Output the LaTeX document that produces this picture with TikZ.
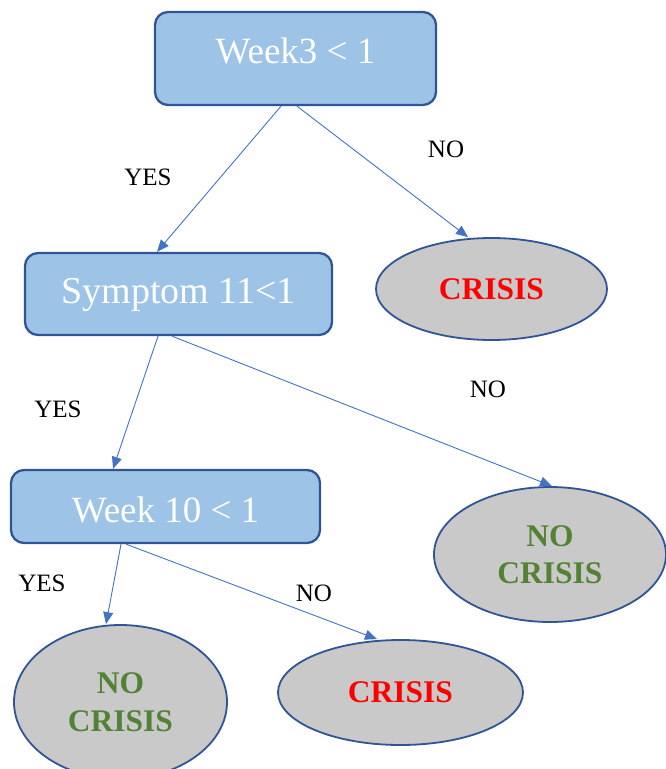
\documentclass[tikz,border=0pt]{standalone}
\usepackage{fontspec}
\setmainfont{Liberation Serif}
\usetikzlibrary{arrows.meta,shapes.geometric}
\definecolor{boxfill}{HTML}{9DC3E6}
\definecolor{edgeblue}{HTML}{2F5597}
\definecolor{ellfill}{HTML}{C9C9C9}
\definecolor{arrowblue}{HTML}{4472C4}
\definecolor{crisisred}{HTML}{FF0000}
\definecolor{okgreen}{HTML}{548235}
\begin{document}
\begin{tikzpicture}[x=1pt,y=-1pt,
 decbox/.style={draw=edgeblue, line width=2.3pt, fill=boxfill, rounded corners=13pt, text=white, font=\fontsize{37}{44}\selectfont, inner sep=2pt},
 leaf/.style={ellipse, draw=edgeblue, line width=1.8pt, fill=ellfill, inner sep=0pt, font=\fontsize{31.5}{37.5}\selectfont\bfseries, align=center},
 conn/.style={draw=arrowblue, line width=0.9pt, -{Triangle[length=12pt,width=10pt]}},
 lbl/.style={font=\fontsize{25}{30}\selectfont, anchor=base, inner sep=0pt}]
\useasboundingbox (0,0) rectangle (666,769);

\node[decbox, minimum width=281pt, minimum height=93pt, text height=29pt, text depth=20pt] (b1) at (295.5,58.5) {Week3 \textless{} 1};
\node[decbox, minimum width=307pt, minimum height=82pt, text height=38pt, text depth=20pt, font=\fontsize{38}{45}\selectfont] (b2) at (178.5,294) {Symptom 11\textless1};
\node[decbox, minimum width=309pt, minimum height=73pt, text height=46pt, text depth=15pt] (b3) at (165.5,506.5) {Week 10 \textless{} 1};

\node[leaf, minimum width=231pt, minimum height=102pt, text=crisisred] (e1) at (491.5,289) {CRISIS};
\node[leaf, minimum width=232pt, minimum height=135pt, text=okgreen] (e2) at (550,554.5) {NO\\CRISIS};
\node[leaf, minimum width=213pt, minimum height=154pt, text=okgreen] (e3) at (120.5,702) {NO\\CRISIS};
\node[leaf, minimum width=245pt, minimum height=105pt, text=crisisred] (e4) at (400.5,692.5) {CRISIS};

\draw[conn] ([xshift=-14.5pt]b1.south) -- ([xshift=-21.5pt]b2.north);
\draw[conn] ([xshift=1.5pt]b1.south) -- ([xshift=-23.5pt]e1.north);
\draw[conn] ([xshift=-20.5pt]b2.south) -- ([xshift=-52.5pt]b3.north);
\draw[conn] ([xshift=-6.5pt]b2.south) -- ([xshift=2pt]e2.north);
\draw[conn] ([xshift=-44.5pt]b3.south) -- ([xshift=-14.5pt]e3.north);
\draw[conn] ([xshift=-39.5pt]b3.south) -- ([xshift=-23.5pt]e4.north);

\node[lbl] (y1) at (148,185) {YES};
\node[lbl] (n1) at (446,157) {NO};
\node[lbl] (y2) at (58,417) {YES};
\node[lbl] (n2) at (488,397) {NO};
\node[lbl] (y3) at (42,591) {YES};
\node[lbl] (n3) at (314,601) {NO};
\end{tikzpicture}
\end{document}
